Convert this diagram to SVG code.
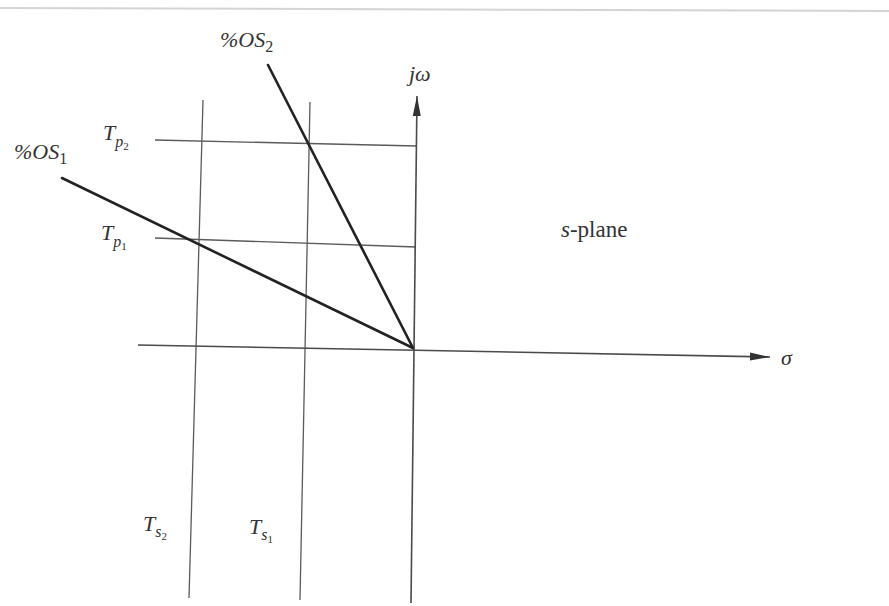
<svg xmlns="http://www.w3.org/2000/svg" width="889" height="606" viewBox="0 0 889 606">
<style>
.thin{stroke:#5a5a5a;stroke-width:1.3;fill:none}
.axis{stroke:#4a4a4a;stroke-width:1.6;fill:none}
.os{stroke:#222;stroke-width:2.6;fill:none;stroke-linecap:round}
text{font-family:"Liberation Serif","Times New Roman",serif;fill:#333}
.it{font-style:italic;font-size:22px}
.sub{font-size:16px}
.ss{font-size:11px;font-style:normal}
</style>
<defs>
<marker id="arrBig" viewBox="0 0 20 10" refX="20" refY="5" markerWidth="20" markerHeight="10" markerUnits="userSpaceOnUse" orient="auto">
<path d="M0,1 L20,5 L0,9 Z" fill="#333"/>
</marker>
</defs>
<rect width="889" height="606" fill="#fff"/>
<line x1="0" y1="8" x2="889" y2="11" stroke="#d4d4d4" stroke-width="2"/>
<g id="connectors">
<line class="thin" x1="203" y1="100" x2="189" y2="598"/>
<line class="thin" x1="310" y1="102" x2="300" y2="600"/>
<line class="thin" x1="155" y1="140" x2="417" y2="146"/>
<line class="thin" x1="155" y1="238" x2="416" y2="247"/>
<line class="axis" x1="411" y1="603" x2="417" y2="96" marker-end="url(#arrBig)"/>
<line class="axis" x1="138" y1="345" x2="770" y2="357" marker-end="url(#arrBig)"/>
<line class="os" x1="268" y1="65" x2="413" y2="348"/>
<line class="os" x1="62" y1="178" x2="413" y2="348"/>
</g>
<g id="label-os2"><text class="it" x="220" y="47">%OS<tspan class="sub" font-style="normal" dy="5">2</tspan></text></g>
<g id="label-os1"><text class="it" x="14" y="159">%OS<tspan class="sub" font-style="normal" dy="5">1</tspan></text></g>
<g id="label-jw"><text class="it" x="409" y="81" font-size="26">jω</text></g>
<g id="label-tp2"><text class="it" x="103" y="140">T<tspan class="sub" dy="7">p</tspan><tspan class="ss" dy="3">2</tspan></text></g>
<g id="label-tp1"><text class="it" x="101" y="240">T<tspan class="sub" dy="7">p</tspan><tspan class="ss" dy="3">1</tspan></text></g>
<g id="label-ts2"><text class="it" x="143" y="531">T<tspan class="sub" dy="6">s</tspan><tspan class="ss" dy="3">2</tspan></text></g>
<g id="label-ts1"><text class="it" x="249" y="534">T<tspan class="sub" dy="6">s</tspan><tspan class="ss" dy="3">1</tspan></text></g>
<g id="label-splane"><text x="561" y="237" font-size="23"><tspan font-style="italic">s</tspan>-plane</text></g>
<g id="label-sigma"><text class="it" x="781" y="365" font-size="29">σ</text></g>
</svg>
